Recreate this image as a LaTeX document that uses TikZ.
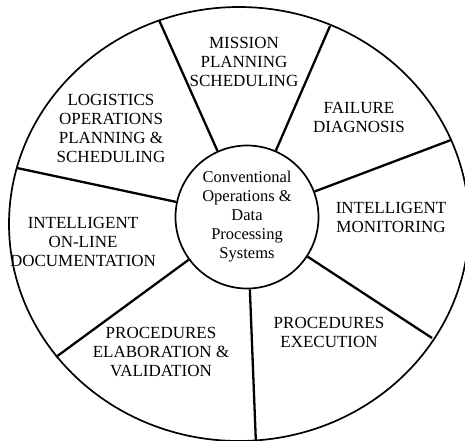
\documentclass[tikz,border=0pt]{standalone}
\usepackage{fontspec}
\setmainfont{Liberation Serif}
\usetikzlibrary{positioning}

\begin{document}
\begin{tikzpicture}[x=1pt,y=-1pt,spoke/.style={line width=2.3pt},rim/.style={line width=1.7pt},
  every node/.style={font=\fontsize{17}{19}\selectfont,align=center}]
\useasboundingbox (0,0) rectangle (465,440);
\draw[rim] (239,224) ellipse [x radius=230pt, y radius=217pt];
\node[circle,draw,rim,minimum size=143pt,inner sep=0pt,font=\fontsize{16.5}{19}\selectfont] (hub) at (247,217) {Conventional\\Operations \&\\Data\\Processing\\Systems};
% outer ends of the spokes
\coordinate (o1) at (159,20);\coordinate (o2) at (330,26);\coordinate (o3) at (451,140);
\coordinate (o4) at (432,338);\coordinate (o5) at (256,445);\coordinate (o6) at (56,357);\coordinate (o7) at (17,168);
\foreach \i in {1,...,7} \draw[spoke] (hub) -- (o\i);
\node (mps) at (244,62) {MISSION\\PLANNING\\SCHEDULING};
\node (fd) at (359,117) {FAILURE\\DIAGNOSIS};
\node (im) at (391,217) {INTELLIGENT\\MONITORING};
\node (pe) at (329,332) {PROCEDURES\\EXECUTION};
\node (pev) at (161,352) {PROCEDURES\\ELABORATION \&\\VALIDATION};
\node (iod) at (83,242) {INTELLIGENT\\ON-LINE\\DOCUMENTATION};
\node (lops) at (111,128) {LOGISTICS\\OPERATIONS\\PLANNING \&\\SCHEDULING};
\end{tikzpicture}
\end{document}
